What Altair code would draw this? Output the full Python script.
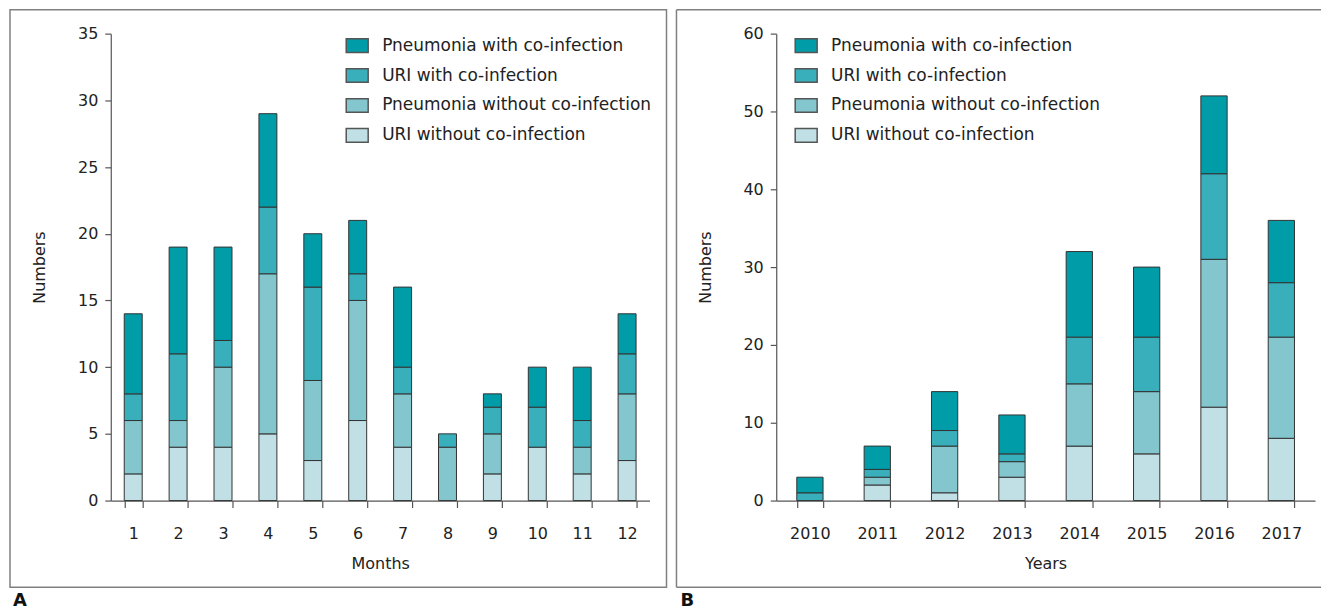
import altair as alt
import pandas as pd

# ---- data ----
legend_order = [
    "Pneumonia with co-infection",
    "URI with co-infection",
    "Pneumonia without co-infection",
    "URI without co-infection",
]
colors = ["#009ca8", "#38afba", "#83c6ce", "#c0e0e6"]
stack_rank = {
    "URI without co-infection": 0,
    "Pneumonia without co-infection": 1,
    "URI with co-infection": 2,
    "Pneumonia with co-infection": 3,
}

months = [str(i) for i in range(1, 13)]
m_uri_wo = [2, 4, 4, 5, 3, 6, 4, 0, 2, 4, 2, 3]
m_pn_wo = [4, 2, 6, 12, 6, 9, 4, 4, 3, 0, 2, 5]
m_uri_w = [2, 5, 2, 5, 7, 2, 2, 1, 2, 3, 2, 3]
m_pn_w = [6, 8, 7, 7, 4, 4, 6, 0, 1, 3, 4, 3]

years = [str(y) for y in range(2010, 2018)]
y_uri_wo = [0, 2, 1, 3, 7, 6, 12, 8]
y_pn_wo = [0, 1, 6, 2, 8, 8, 19, 13]
y_uri_w = [1, 1, 2, 1, 6, 7, 11, 7]
y_pn_w = [2, 3, 5, 5, 11, 9, 10, 8]


def long_df(cats, cols):
    rows = []
    for name, vals in cols.items():
        for c, v in zip(cats, vals):
            if v > 0:
                rows.append({"cat": c, "series": name, "value": v, "rank": stack_rank[name]})
    return pd.DataFrame(rows)


df_m = long_df(months, {
    "URI without co-infection": m_uri_wo,
    "Pneumonia without co-infection": m_pn_wo,
    "URI with co-infection": m_uri_w,
    "Pneumonia with co-infection": m_pn_w,
})
df_y = long_df(years, {
    "URI without co-infection": y_uri_wo,
    "Pneumonia without co-infection": y_pn_wo,
    "URI with co-infection": y_uri_w,
    "Pneumonia with co-infection": y_pn_w,
})

FONT = "DejaVu Sans"
AX = "#555555"
TXT = "#222222"
FRAME = "#808080"
W, H = 540, 468
one = alt.Data(values=[{"k": 1}])


def panel(df, cats, xtitle, ymax, ystep, pin, pout, legend_x, letter, letter_x, left, right, closed):
    base_axis = dict(domainColor=AX, tickColor=AX, labelColor=TXT, titleColor=TXT,
                     labelFont=FONT, titleFont=FONT, labelFontSize=16, titleFontSize=16,
                     titleFontWeight="normal", grid=False, domainWidth=1.2, tickWidth=1.2)
    bars = alt.Chart(df).mark_bar(stroke="#333333", strokeWidth=1).encode(
        x=alt.X("cat:N", sort=cats, title=xtitle,
                scale=alt.Scale(paddingInner=pin, paddingOuter=pout),
                axis=alt.Axis(labelAngle=0, tickBand="extent", tickSize=7, labelPadding=18,
                              titlePadding=14, **base_axis)),
        y=alt.Y("value:Q", stack="zero", title="Numbers",
                scale=alt.Scale(domain=[0, ymax], nice=False),
                axis=alt.Axis(values=list(range(0, ymax + 1, ystep)), tickSize=6,
                              labelPadding=7, titlePadding=30, **base_axis)),
        color=alt.Color("series:N",
                        scale=alt.Scale(domain=legend_order, range=colors),
                        legend=alt.Legend(title=None, orient="none", legendX=legend_x, legendY=0,
                                          symbolType="M-1,-0.62H1V0.62H-1Z", symbolSize=484,
                                          symbolStrokeColor="#555555", symbolStrokeWidth=1.5,
                                          symbolOpacity=1, labelFont=FONT, labelFontSize=17,
                                          labelColor=TXT, labelOffset=13, rowPadding=8,
                                          labelLimit=400)),
        order=alt.Order("rank:Q", sort="ascending"),
    )
    layers = [bars]
    top, bottom = -24, 555
    if closed:
        layers.append(alt.Chart(one).mark_rect(fill="transparent", stroke=FRAME, strokeWidth=1.5).encode(
            x=alt.value(left), x2=alt.value(right), y=alt.value(top), y2=alt.value(bottom)))
    else:
        for yy in (top, bottom):
            layers.append(alt.Chart(one).mark_rule(color=FRAME, strokeWidth=1.5).encode(
                x=alt.value(left), x2=alt.value(right), y=alt.value(yy)))
        layers.append(alt.Chart(one).mark_rule(color=FRAME, strokeWidth=1.5).encode(
            x=alt.value(left), y=alt.value(top), y2=alt.value(bottom)))
    layers.append(alt.Chart(one).mark_text(text=letter, font=FONT, fontSize=18, fontWeight="bold",
                                           color="#111111", align="left", baseline="middle").encode(
        x=alt.value(letter_x), y=alt.value(569)))
    return alt.layer(*layers).properties(width=W, height=H)


pa = panel(df_m, months, "Months", 35, 5, 0.6, 0.3, 235, "A", -98, -101, 557, True)
pb = panel(df_y, years, "Years", 60, 10, 0.61, 0.305, 18, "B", -96, -100, 546, False)

chart = alt.hconcat(pa, pb, spacing=8).resolve_scale(
    x="independent", y="independent", color="independent"
).properties(
    padding={"left": 1, "top": 0, "right": 0, "bottom": 0}
).configure_view(strokeWidth=0)

chart.save("out.html", embed_options={"renderer": "svg", "actions": False})
